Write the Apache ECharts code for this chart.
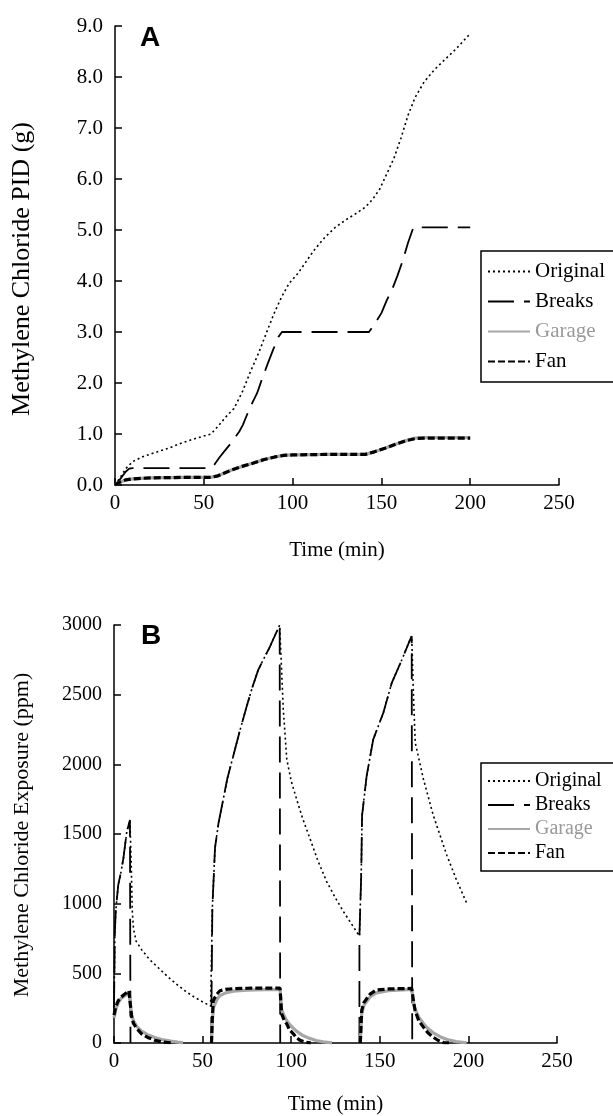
<!DOCTYPE html>
<html>
<head>
<meta charset="utf-8">
<script src="https://cdn.jsdelivr.net/npm/echarts@6/dist/echarts.min.js"></script>
<style>
  html, body { margin: 0; padding: 0; background: #fff; }
  #chart { width: 613px; height: 1116px; }
</style>
</head>
<body>
<div id="chart"></div>
<script>
// 数据: [时间(min), 值]
// A: 累计吸入量 PID (g)
const originalA = [[0,0],[3,0.15],[6,0.32],[10,0.46],[16,0.56],[22,0.63],[30,0.72],[38,0.83],[46,0.92],[54,1.0],
  [58,1.15],[62,1.32],[67,1.5],[72,1.85],[76,2.2],[81,2.6],[86,3.05],[90,3.4],[94,3.7],[98,3.95],[103,4.15],
  [108,4.4],[112,4.6],[118,4.85],[124,5.05],[130,5.2],[136,5.33],[141,5.45],[145,5.6],[149,5.8],[153,6.1],
  [157,6.4],[161,6.8],[165,7.25],[169,7.6],[174,7.9],[180,8.15],[186,8.35],[192,8.55],[200,8.85]];
const breaksA = [[0,0],[3,0.12],[6,0.26],[8,0.32],[10,0.33],[54,0.33],[56,0.4],[59,0.55],[62,0.68],[66,0.85],
  [70,1.05],[72,1.18],[76,1.52],[80,1.8],[83,2.1],[86,2.38],[89,2.65],[92,2.9],[94,3.0],[143,3.0],[146,3.15],
  [150,3.37],[153,3.62],[156,3.83],[159,4.1],[162,4.4],[165,4.75],[168,5.05],[200,5.05]];
const garageA = [[0,0],[3,0.06],[6,0.1],[10,0.12],[20,0.14],[40,0.15],[54,0.15],[58,0.18],[62,0.24],[66,0.3],
  [72,0.37],[78,0.43],[84,0.5],[90,0.55],[95,0.58],[100,0.59],[120,0.6],[141,0.6],[146,0.65],[152,0.72],
  [158,0.8],[164,0.87],[169,0.92],[175,0.93],[200,0.93]];
const fanA = [[0,0],[3,0.06],[6,0.1],[10,0.12],[20,0.14],[40,0.15],[54,0.15],[58,0.18],[62,0.24],[66,0.3],
  [72,0.37],[78,0.43],[84,0.5],[90,0.55],[95,0.58],[100,0.59],[120,0.6],[141,0.6],[146,0.65],[152,0.72],
  [158,0.8],[164,0.87],[169,0.91],[175,0.92],[200,0.92]];

// B: 暴露浓度 (ppm)
const originalB = [[0,250],[0.5,800],[1,950],[2.4,1135],[4,1230],[5.3,1325],[7.2,1515],[9,1600],[9.7,1300],
  [10.3,950],[11,820],[12.5,730],[15.6,670],[20,600],[25,540],[30,480],[35,425],[40,375],[45,332],[50,295],
  [54.5,265],[55,600],[55.5,970],[57,1400],[59,1580],[61.7,1752],[64,1900],[67.3,2060],[71,2240],[74.9,2417],
  [78,2550],[81.4,2678],[85,2770],[88,2844],[91,2930],[93.5,3000],[94.5,2700],[95.5,2400],[97.5,2037],
  [100,1880],[103,1752],[106.5,1610],[110.6,1467],[115,1310],[120,1159],[125,1040],[129.4,945],[134,855],
  [138.5,767],[139.5,1200],[140,1633],[142.6,1918],[146.3,2179],[152,2370],[156.7,2583],[162.4,2749],
  [167,2892],[168,2920],[169,2500],[170,2156],[174.6,1895],[180.2,1633],[187.8,1348],[193,1180],[199,1004]];
const breaksB = [[0,250],[0.5,800],[1,950],[2.4,1135],[4,1230],[5.3,1325],[7.2,1515],[9,1600],[9.3,0],['-','-'],
  [55,0],[55,265],[55.5,970],[57,1400],[59,1580],[61.7,1752],[64,1900],[67.3,2060],[71,2240],[74.9,2417],
  [78,2550],[81.4,2678],[85,2770],[88,2844],[91,2930],[93.5,3000],[93.8,0],['-','-'],
  [138.5,0],[138.5,767],[139.5,1200],[140,1633],[142.6,1918],[146.3,2179],[152,2370],[156.7,2583],
  [162.4,2749],[167,2892],[168,2920],[168.3,0]];
const garageB = [[0,180],[1,240],[2.4,290],[4,320],[6.1,340],[8.4,360],[9.2,355],[10,200],[11,160],[12.8,120],
  [15.6,85],[19,60],[23,40],[27,25],[32,13],[36,6],[39,1],['-','-'],
  [55,0],[55.5,150],[56,250],[58,310],[59.8,340],[63,360],[67.3,372],[75,380],[85,383],[93.7,384],[94.6,240],
  [96,195],[97.5,160],[100,120],[103,85],[106,58],[110,35],[114,18],[118,8],[123,1],['-','-'],
  [139,0],[139.5,130],[139.8,210],[141,270],[144.5,330],[148,360],[155,375],[168,385],[169,290],[169.9,245],
  [172,185],[174.6,140],[177,105],[180,75],[184,45],[188,25],[193,10],[199,1]];
const fanB = [[0,200],[1,260],[2.4,304],[4,330],[6.1,351],[8.4,375],[9.2,370],[10,185],[11,140],[12.8,105],
  [15.6,66],[19,40],[23,20],[27,8],[32,2],['-','-'],
  [55,0],[55.5,180],[56,304],[58,350],[59.8,375],[63,385],[67.3,390],[75,393],[85,394],[93.7,394],[94.6,209],
  [96,165],[97.5,137],[99,95],[101.2,66],[103,38],[105,19],[108,6],[111,1],['-','-'],
  [139,0],[139.5,150],[139.8,233],[141,290],[144.5,351],[148,380],[155,388],[168,392],[169,300],[169.9,233],
  [172,160],[174.6,114],[177,75],[180,43],[183,18],[186,3],[189,1]];

const seriesNames = ['Original', 'Breaks', 'Garage', 'Fan'];
const xTicks = { min: 0, max: 250, interval: 50 };

const chart = echarts.init(document.getElementById('chart'));

const font = 'Liberation Serif';

function lineStyles(name) {
  switch (name) {
    case 'Original': return { color: '#000', width: 1.6, type: [2, 3] };
    case 'Breaks': return { color: '#000', width: 1.8, type: [26, 10] };
    case 'Garage': return { color: '#a6a6a6', width: 3.2, type: 'solid' };
    case 'Fan': return { color: '#000', width: 3.2, type: [7, 3] };
  }
}

function mkSeries(name, data, idx) {
  const ls = lineStyles(name);
  return {
    name: name,
    type: 'line',
    xAxisIndex: idx,
    yAxisIndex: idx,
    data: data,
    symbol: 'none',
    connectNulls: false,
    color: ls.color,
    lineStyle: ls,
    z: name === 'Fan' ? 4 : (name === 'Garage' ? 3 : 2),
    animation: false
  };
}

function xAxis(idx, gap) {
  return {
    type: 'value',
    gridIndex: idx,
    min: xTicks.min,
    max: xTicks.max,
    interval: xTicks.interval,
    name: 'Time (min)',
    nameLocation: 'middle',
    nameGap: gap,
    nameTextStyle: { fontFamily: font, fontSize: 21, color: '#000' },
    axisLine: { lineStyle: { color: '#000', width: 1.5 } },
    axisTick: { inside: true, length: 7, lineStyle: { color: '#000', width: 1.5 } },
    axisLabel: { fontFamily: font, fontSize: 21, color: '#000', margin: 8 },
    splitLine: { show: false }
  };
}

function yAxis(idx, max, step, fmt, fontSize) {
  return {
    type: 'value', gridIndex: idx, min: 0, max: max, interval: step,
    axisLine: { show: true, lineStyle: { color: '#000', width: 1.5 } },
    axisTick: { show: true, inside: true, length: 7, lineStyle: { color: '#000', width: 1.5 } },
    axisLabel: { fontFamily: font, fontSize: fontSize, color: '#000', margin: 12, formatter: fmt },
    splitLine: { show: false }
  };
}

const legendBase = {
  orient: 'vertical',
  left: 481,
  borderColor: '#000',
  borderWidth: 1.5,
  borderRadius: 0,
  itemWidth: 42,
  itemHeight: 14,
  itemStyle: { opacity: 0 },
  data: [
    { name: 'Original' },
    { name: 'Breaks' },
    { name: 'Garage', textStyle: { color: '#999' } },
    { name: 'Fan' }
  ]
};

chart.setOption({
  backgroundColor: '#fff',
  animation: false,
  grid: [
    { left: 115, top: 26, width: 444, height: 459 },
    { left: 114, top: 625, width: 443, height: 421 }
  ],
  xAxis: [xAxis(0, 55), xAxis(1, 51)],
  yAxis: [
    yAxis(0, 9, 1, v => v.toFixed(1), 21),
    yAxis(1, 3000, 500, v => String(v), 20)
  ],
  legend: [
    Object.assign({}, legendBase, {
      top: 251, itemGap: 9, padding: [10, 40, 10, 6],
      textStyle: { fontFamily: font, fontSize: 21, color: '#000' }
    }),
    Object.assign({}, legendBase, {
      top: 763, itemGap: 4, padding: [8, 40, 8, 6],
      textStyle: { fontFamily: font, fontSize: 20, color: '#000' }
    })
  ],
  graphic: [
    { type: 'text', left: 140, top: 24, style: { text: 'A', font: 'bold 28px "Liberation Sans"', fill: '#000' } },
    { type: 'text', left: 141, top: 622, style: { text: 'B', font: 'bold 28px "Liberation Sans"', fill: '#000' } },
    { type: 'text', x: 22, y: 269, rotation: Math.PI / 2,
      style: { text: 'Methylene Chloride PID (g)', font: '26px "Liberation Serif"', fill: '#000',
        textAlign: 'center', textVerticalAlign: 'middle' } },
    { type: 'text', x: 22, y: 835, rotation: Math.PI / 2,
      style: { text: 'Methylene Chloride Exposure (ppm)', font: '22px "Liberation Serif"', fill: '#000',
        textAlign: 'center', textVerticalAlign: 'middle' } }
  ],
  series: [
    mkSeries('Garage', garageA, 0),
    mkSeries('Fan', fanA, 0),
    mkSeries('Breaks', breaksA, 0),
    mkSeries('Original', originalA, 0),
    mkSeries('Garage', garageB, 1),
    mkSeries('Fan', fanB, 1),
    mkSeries('Breaks', breaksB, 1),
    mkSeries('Original', originalB, 1)
  ]
});
</script>
</body>
</html>
